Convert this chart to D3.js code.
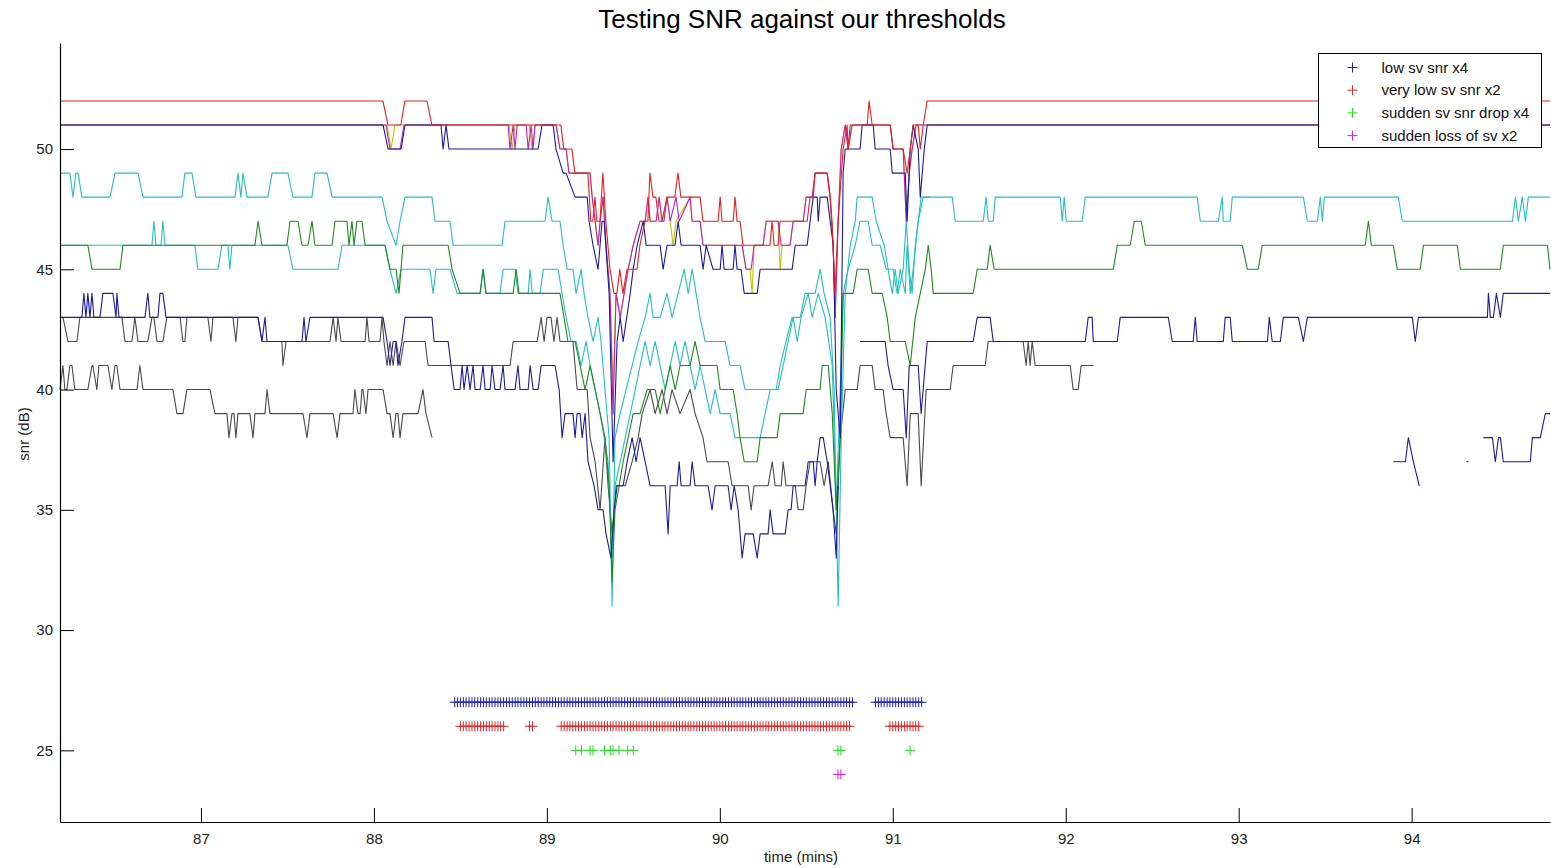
<!DOCTYPE html>
<html>
<head>
<meta charset="utf-8">
<script src="https://cdn.jsdelivr.net/npm/d3@7"></script>
<style>
  html, body { margin: 0; padding: 0; background: #ffffff; }
  svg text { font-family: "Liberation Sans", Arial, Helvetica, sans-serif; }
</style>
</head>
<body>
<svg id="chart" width="1551" height="868"></svg>
<script>
// ---------------------------------------------------------------
// Per-satellite SNR traces, [time (mins), snr (dB)]
// ---------------------------------------------------------------
const snrRed = [[86.185,52],[88.052,52],[88.081,51],[88.156,51],[88.179,52],[88.307,52],[88.335,51],[89.081,51],[89.098,50],[89.145,50],[89.162,49],[89.237,49],[89.254,47],[89.266,47],[89.278,48],[89.289,47],[89.307,47],[89.324,49],[89.341,47],[89.365,45],[89.388,44],[89.405,44],[89.422,45],[89.440,44],[89.463,45],[89.521,45],[89.538,46],[89.567,47],[89.584,47],[89.596,49],[89.613,48],[89.630,48],[89.648,47],[89.677,47],[89.694,48],[89.740,48],[89.758,49],[89.775,48],[89.886,48],[89.903,47],[89.990,47],[90.002,48],[90.013,47],[90.077,47],[90.088,48],[90.100,47],[90.117,47],[90.134,46],[90.290,46],[90.302,47],[90.314,46],[90.337,46],[90.348,47],[90.505,47],[90.522,48],[90.540,48],[90.551,49],[90.620,49],[90.638,48],[90.649,47],[90.666,44],[90.684,47],[90.713,50],[90.736,51],[90.742,50],[90.754,51],[90.852,51],[90.863,52],[90.881,51],[90.985,51],[91.002,50],[91.060,50],[91.083,49],[91.101,50],[91.118,51],[91.147,51],[91.159,50],[91.176,51],[91.199,52],[94.800,52]];

const snrBlueTop = [[86.185,51],[88.053,51],[88.082,50],[88.157,50],[88.180,51],[88.388,51],[88.400,50],[88.417,51],[88.434,50],[88.949,50],[88.972,51],[89.036,51],[89.053,50],[89.094,49],[89.111,49],[89.163,48],[89.233,48],[89.244,47],[89.267,46],[89.296,45],[89.319,47],[89.331,47],[89.360,44],[89.383,37],[89.406,42],[89.424,43],[89.441,42],[89.482,44],[89.499,45],[89.522,46],[89.557,47],[89.574,46],[89.655,46],[89.672,45],[89.695,46],[89.741,46],[89.759,47],[89.776,46],[89.886,46],[89.903,45],[89.921,46],[89.961,45],[90.002,45],[90.013,46],[90.025,45],[90.077,45],[90.088,46],[90.100,45],[90.123,45],[90.141,44],[90.216,44],[90.233,45],[90.418,45],[90.436,46],[90.505,46],[90.522,47],[90.540,48],[90.563,48],[90.569,47],[90.580,48],[90.621,48],[90.638,47],[90.656,46],[90.673,40],[90.696,38],[90.713,49],[90.725,50],[90.811,50],[90.823,51],[90.887,51],[90.898,50],[90.985,50],[90.997,49],[91.072,49],[91.083,47],[91.101,50],[91.118,51],[91.147,50],[91.159,48],[91.182,50],[91.199,51],[94.800,51]];

const snrMagenta = [[86.185,51],[88.070,51],[88.093,50],[88.151,50],[88.174,51],[88.776,51],[88.787,50],[88.805,51],[88.816,50],[88.828,51],[88.880,51],[88.892,50],[88.909,51],[88.920,50],[88.932,51],[89.053,51],[89.076,50],[89.111,50],[89.128,49],[89.250,49],[89.262,48],[89.279,47],[89.296,46],[89.308,47],[89.325,48],[89.342,46],[89.365,44],[89.383,39],[89.400,44],[89.424,43],[89.447,44],[89.470,45],[89.499,46],[89.539,47],[89.568,47],[89.585,48],[89.597,47],[89.632,47],[89.649,48],[89.666,47],[89.695,48],[89.713,47],[89.747,48],[89.765,47],[89.828,48],[89.840,47],[89.886,47],[89.903,46],[90.129,46],[90.152,45],[90.181,45],[90.198,46],[90.250,46],[90.268,47],[90.337,47],[90.355,46],[90.406,46],[90.424,47],[90.482,47],[90.499,48],[90.534,48],[90.551,49],[90.621,49],[90.638,48],[90.655,46],[90.667,43],[90.684,47],[90.702,50],[90.725,51],[90.742,50],[90.765,51],[90.985,51],[91.002,50],[91.060,50],[91.078,47],[91.095,49],[91.112,50],[91.135,51],[94.800,51]];

const snrYellow = [[86.185,51],[88.076,51],[88.099,50],[88.122,51],[88.781,51],[88.799,50],[88.816,51],[88.897,51],[88.915,50],[88.932,51],[89.053,51],[89.076,50],[89.111,50],[89.128,49],[89.250,49],[89.262,48],[89.279,47],[89.296,46],[89.308,47],[89.325,48],[89.342,46],[89.365,44],[89.383,40],[89.400,44],[89.424,43],[89.447,44],[89.470,45],[89.499,46],[89.539,47],[89.568,47],[89.585,48],[89.597,47],[89.632,47],[89.649,48],[89.666,47],[89.695,48],[89.713,47],[89.730,46],[89.747,47],[89.828,48],[89.840,47],[89.886,47],[89.903,46],[90.129,46],[90.152,45],[90.175,45],[90.187,44],[90.198,46],[90.250,46],[90.268,47],[90.337,47],[90.349,45],[90.360,46],[90.406,46],[90.424,47],[90.482,47],[90.499,48],[90.534,48],[90.551,49],[90.621,49],[90.638,48],[90.655,46],[90.667,43],[90.684,47],[90.702,50],[90.725,51],[90.742,50],[90.765,51],[90.985,51],[91.002,50],[91.060,50],[91.078,47],[91.095,49],[91.112,50],[91.135,51],[94.800,51]];

const snrCyanUpper = [[86.185,49],[86.242,49],[86.260,48],[86.277,49],[86.289,49],[86.312,48],[86.474,48],[86.503,49],[86.636,49],[86.665,48],[86.890,48],[86.907,49],[86.948,49],[86.971,48],[87.197,48],[87.214,49],[87.231,48],[87.243,49],[87.266,48],[87.387,48],[87.411,49],[87.503,49],[87.532,48],[87.642,48],[87.659,49],[87.729,49],[87.758,48],[88.047,48],[88.076,47],[88.128,46],[88.151,47],[88.180,48],[88.336,48],[88.353,47],[88.440,47],[88.458,46],[88.741,46],[88.758,47],[88.990,47],[89.007,48],[89.030,47],[89.076,47],[89.094,46],[89.117,45],[89.151,45],[89.169,44],[89.198,45],[89.215,44],[89.238,43],[89.267,42],[89.296,43],[89.313,42],[89.336,40],[89.360,38],[89.377,31],[89.394,38],[89.424,39],[89.458,40],[89.493,41],[89.528,42],[89.568,43],[89.597,44],[89.614,43],[89.655,43],[89.695,44],[89.724,43],[89.759,44],[89.794,45],[89.817,44],[89.840,45],[89.863,44],[89.886,43],[89.915,42],[90.031,42],[90.059,41],[90.117,41],[90.146,40],[90.326,40],[90.349,41],[90.383,42],[90.418,43],[90.465,43],[90.493,44],[90.551,44],[90.580,45],[90.603,44],[90.638,43],[90.661,40],[90.684,31],[90.702,38],[90.725,44],[90.754,46],[90.783,47],[90.794,48],[90.881,48],[90.904,47],[90.950,46],[90.973,45],[90.997,44],[91.014,45],[91.031,44],[91.060,45],[91.078,47],[91.095,45],[91.112,44],[91.130,46],[91.147,47],[91.164,48],[91.344,48],[91.361,47],[91.523,47],[91.540,48],[91.552,47],[91.581,47],[91.592,48],[91.968,48],[91.980,47],[91.991,48],[92.003,47],[92.095,47],[92.113,48],[92.760,48],[92.778,47],[92.882,47],[92.905,48],[92.911,47],[92.951,47],[92.963,48],[93.374,48],[93.397,47],[93.455,47],[93.472,48],[93.484,47],[93.495,48],[93.923,48],[93.946,47],[94.583,47],[94.600,48],[94.617,47],[94.640,48],[94.658,47],[94.675,48],[94.800,48]];

const snrCyanLower = [[86.185,46],[86.717,46],[86.728,47],[86.740,46],[86.769,46],[86.780,47],[86.792,46],[86.965,46],[86.982,45],[87.098,45],[87.121,46],[87.156,46],[87.167,45],[87.179,46],[87.503,46],[87.532,45],[87.792,45],[87.816,46],[88.064,46],[88.093,45],[88.128,44],[88.157,45],[88.324,45],[88.342,44],[88.359,45],[88.440,45],[88.481,44],[88.614,44],[88.631,45],[88.648,44],[88.729,44],[88.747,45],[88.816,45],[88.833,44],[88.892,44],[88.903,45],[88.915,44],[88.961,44],[88.979,45],[89.065,45],[89.088,44],[89.111,43],[89.140,42],[89.169,42],[89.198,41],[89.227,42],[89.250,41],[89.279,40],[89.308,39],[89.331,38],[89.354,37],[89.377,33],[89.394,36],[89.424,37],[89.453,38],[89.482,39],[89.511,40],[89.539,41],[89.568,42],[89.597,41],[89.626,42],[89.655,41],[89.684,40],[89.713,41],[89.742,42],[89.770,41],[89.799,42],[89.828,41],[89.857,40],[89.886,41],[89.915,40],[89.944,39],[89.973,40],[90.002,39],[90.059,39],[90.088,38],[90.233,38],[90.262,39],[90.291,40],[90.337,40],[90.366,41],[90.395,42],[90.424,43],[90.447,42],[90.470,43],[90.511,44],[90.534,43],[90.569,44],[90.609,43],[90.650,41],[90.673,35],[90.696,40],[90.713,44],[90.742,45],[90.783,46],[90.811,47],[90.858,47],[90.881,46],[90.927,46],[90.962,45],[91.002,45],[91.025,44],[91.043,45],[91.072,44],[91.083,46],[91.101,44],[91.118,45],[91.147,47],[91.176,48],[91.216,48]];

const snrGreen = [[86.185,46],[86.346,46],[86.370,45],[86.532,45],[86.549,46],[87.312,46],[87.330,47],[87.353,46],[87.497,46],[87.515,47],[87.561,47],[87.584,46],[87.619,46],[87.642,47],[87.659,46],[87.758,46],[87.775,47],[87.844,47],[87.856,46],[87.873,47],[87.885,46],[87.902,47],[87.931,47],[87.949,46],[88.064,46],[88.093,45],[88.128,45],[88.145,44],[88.168,46],[88.429,46],[88.452,45],[88.498,44],[88.614,44],[88.631,45],[88.648,44],[88.805,44],[88.822,45],[88.839,44],[89.076,44],[89.099,43],[89.122,42],[89.163,42],[89.192,41],[89.221,40],[89.250,41],[89.279,40],[89.308,39],[89.336,38],[89.360,36],[89.377,32],[89.394,35],[89.418,36],[89.441,37],[89.470,38],[89.499,39],[89.539,39],[89.580,40],[89.626,40],[89.655,39],[89.684,40],[89.713,41],[89.742,40],[89.770,41],[89.828,41],[89.857,42],[89.886,41],[89.984,41],[90.002,40],[90.077,40],[90.100,39],[90.117,38],[90.141,37],[90.216,37],[90.233,38],[90.331,38],[90.349,39],[90.482,39],[90.499,40],[90.580,40],[90.592,41],[90.627,41],[90.650,39],[90.673,35],[90.696,38],[90.713,44],[90.771,44],[90.794,45],[90.858,45],[90.881,44],[90.939,44],[90.968,43],[90.985,42],[91.072,42],[91.101,41],[91.130,43],[91.159,44],[91.188,45],[91.205,46],[91.222,45],[91.234,44],[91.465,44],[91.488,45],[91.546,45],[91.563,46],[91.586,45],[92.275,45],[92.298,46],[92.373,46],[92.396,47],[92.437,47],[92.460,46],[93.021,46],[93.050,45],[93.113,45],[93.136,46],[93.732,46],[93.750,47],[93.767,46],[93.894,46],[93.917,45],[94.050,45],[94.068,46],[94.264,46],[94.282,45],[94.513,45],[94.530,46],[94.785,46],[94.800,45]];

const snrBlueMid = [[86.185,43],[86.312,43],[86.323,44],[86.335,43],[86.346,44],[86.358,43],[86.370,44],[86.381,43],[86.416,43],[86.433,44],[86.491,44],[86.509,43],[86.514,44],[86.526,43],[86.676,43],[86.693,44],[86.705,43],[86.751,43],[86.763,44],[86.780,44],[86.798,43],[87.330,43],[87.353,42],[87.370,43],[87.382,42],[87.584,42],[87.596,43],[87.607,42],[87.630,43],[88.053,43],[88.076,42],[88.093,41],[88.111,42],[88.128,42],[88.139,41],[88.162,42],[88.180,43],[88.336,43],[88.348,42],[88.429,42],[88.446,41],[88.464,40],[88.498,40],[88.510,41],[88.521,40],[88.539,41],[88.556,40],[88.573,41],[88.585,40],[88.614,40],[88.631,41],[88.643,40],[88.672,40],[88.683,41],[88.700,40],[88.729,40],[88.747,41],[88.758,40],[88.816,40],[88.833,41],[88.845,40],[88.892,40],[88.903,41],[88.921,40],[88.949,40],[88.967,41],[89.047,41],[89.071,40],[89.088,38],[89.105,39],[89.151,39],[89.163,38],[89.175,39],[89.192,39],[89.204,38],[89.221,39],[89.238,37],[89.273,36],[89.296,35],[89.325,35],[89.342,34],[89.371,33],[89.389,35],[89.406,36],[89.441,36],[89.464,37],[89.493,38],[89.516,37],[89.539,38],[89.568,37],[89.597,36],[89.684,36],[89.701,34],[89.713,36],[89.753,36],[89.765,37],[89.776,36],[89.828,36],[89.840,37],[89.857,36],[89.932,36],[89.955,35],[89.973,36],[90.048,36],[90.065,35],[90.083,36],[90.106,35],[90.129,33],[90.146,34],[90.193,34],[90.216,33],[90.233,34],[90.279,34],[90.291,35],[90.308,34],[90.378,34],[90.395,35],[90.412,35],[90.424,36],[90.493,36],[90.511,37],[90.540,37],[90.551,36],[90.563,37],[90.580,38],[90.598,38],[90.621,37],[90.638,36],[90.655,35],[90.673,33],[90.684,36],
  [90.700,null],
  [90.811,42],[90.956,42],[90.973,41],[91.002,40],[91.060,40],[91.078,38],[91.095,41],[91.147,41],[91.164,39],[91.199,42],[91.465,42],[91.488,43],[91.563,43],[91.581,42],[92.113,42],[92.130,43],[92.153,43],[92.159,42],[92.298,42],[92.315,43],[92.593,43],[92.616,42],[92.737,42],[92.749,43],[92.760,42],[92.911,42],[92.922,43],[92.951,43],[92.963,42],[93.166,42],[93.177,43],[93.194,42],[93.241,42],[93.258,43],[93.345,43],[93.374,42],[93.397,43],[94.004,43],[94.021,42],[94.039,43],[94.438,43],[94.444,44],[94.455,43],[94.473,43],[94.490,44],[94.513,43],[94.530,44],[94.800,44]];

const snrBlueLate = [[93.894,37],[93.964,37],[93.981,38],[94.010,37],[94.044,36],
  [94.200,null],
  [94.316,37],[94.328,37],
  [94.380,null],
  [94.415,38],[94.467,38],[94.484,37],[94.502,38],[94.513,38],[94.530,37],[94.686,37],[94.698,38],[94.744,38],[94.773,39],[94.800,39]];

const snrGrayUpper = [[86.185,43],[86.202,43],[86.231,42],[86.283,42],[86.300,43],[86.543,43],[86.561,42],[86.601,42],[86.618,43],[86.636,42],[86.693,42],[86.717,43],[86.728,43],[86.746,42],[86.780,42],[86.803,43],[86.879,43],[86.896,42],[86.907,42],[86.919,43],[87.040,43],[87.058,42],[87.069,43],[87.185,43],[87.202,42],[87.214,43],[87.330,43],[87.353,42],[87.468,42],[87.474,41],[87.492,42],[87.746,42],[87.764,43],[87.781,42],[87.792,43],[87.810,42],[87.949,42],[87.960,43],[87.972,42],[88.035,42],[88.047,43],[88.058,42],[88.076,41],[88.093,42],[88.111,41],[88.128,42],[88.151,41],[88.174,42],[88.296,42],[88.313,41],[88.787,41],[88.805,42],[88.944,42],[88.967,43],[88.984,42],[89.001,43],[89.024,43],[89.041,42],[89.059,43],[89.076,42],[89.151,42],[89.175,40],[89.233,40],[89.250,38],[89.279,37],[89.308,35],[89.336,38],[89.354,36],[89.377,34],[89.400,36],[89.453,36],[89.493,37],[89.528,38],[89.551,39],[89.597,40],[89.626,39],[89.666,40],[89.695,39],[89.724,40],[89.770,39],[89.828,40],[89.857,39],[89.903,38],[89.926,37],[90.048,37],[90.071,36],[90.164,36],[90.181,35],[90.198,36],[90.279,36],[90.303,37],[90.320,36],[90.355,36],[90.366,37],[90.383,36],[90.436,36],[90.453,35],[90.482,35],[90.499,36],[90.522,37],[90.580,37],[90.603,36],[90.627,37],[90.655,35],[90.673,34],[90.696,38],[90.725,40],[90.794,40],[90.811,41],[90.881,41],[90.898,40],[90.944,40],[90.962,39],[90.985,38],[91.060,38],[91.083,36],[91.101,39],[91.147,39],[91.164,36],[91.193,40],[91.332,40],[91.349,41],[91.534,41],[91.552,42],[91.754,42],[91.771,41],[91.783,42],[91.794,41],[91.806,42],[91.823,41],[92.026,41],[92.043,40],[92.072,40],[92.089,41],[92.159,41]];

const snrGrayLower = [[86.185,40],[86.202,41],[86.213,40],[86.225,40],[86.242,41],[86.254,41],[86.271,40],[86.346,40],[86.370,41],[86.375,41],[86.398,40],[86.410,41],[86.462,41],[86.485,40],[86.503,41],[86.514,41],[86.532,40],[86.630,40],[86.647,41],[86.665,40],[86.838,40],[86.861,39],[86.896,39],[86.919,40],[87.052,40],[87.081,39],[87.150,39],[87.162,38],[87.179,39],[87.191,39],[87.202,38],[87.214,39],[87.283,39],[87.301,38],[87.312,39],[87.370,39],[87.382,40],[87.399,39],[87.590,39],[87.613,38],[87.630,39],[87.764,39],[87.787,38],[87.804,39],[87.879,39],[87.890,40],[87.908,39],[87.920,39],[87.931,40],[87.937,40],[87.954,39],[87.966,40],[88.053,40],[88.076,39],[88.093,39],[88.111,38],[88.128,39],[88.139,39],[88.151,38],[88.168,39],[88.255,39],[88.284,40],[88.301,39],[88.336,38]];

// ---------------------------------------------------------------
// Threshold flags: times (mins) at which each test fired
// ---------------------------------------------------------------
const flagLowSnr = [88.467,88.483,88.500,88.517,88.533,88.550,88.567,88.583,88.600,88.617,88.633,88.650,88.667,88.683,88.700,88.717,88.733,88.750,88.767,88.783,88.800,88.817,88.833,88.850,88.867,88.883,88.900,88.917,88.933,88.950,88.967,88.983,
  89.000,89.017,89.033,89.050,89.067,89.083,89.100,89.117,89.133,89.150,89.167,89.183,89.200,89.217,89.233,89.250,89.267,89.283,89.300,89.317,89.333,89.350,89.367,89.383,89.400,89.417,89.433,89.450,89.467,89.483,89.500,89.517,89.533,89.550,89.567,89.583,89.600,89.617,89.633,89.650,89.667,89.683,89.700,89.717,89.733,89.750,89.767,89.783,89.800,89.817,89.833,89.850,89.867,89.883,89.900,89.917,89.933,89.950,89.967,89.983,
  90.000,90.017,90.033,90.050,90.067,90.083,90.100,90.117,90.133,90.150,90.167,90.183,90.200,90.217,90.233,90.250,90.267,90.283,90.300,90.317,90.333,90.350,90.367,90.383,90.400,90.417,90.433,90.450,90.467,90.483,90.500,90.517,90.533,90.550,90.567,90.583,90.600,90.617,90.633,90.650,90.667,90.683,90.700,90.717,90.733,90.750,90.767,
  90.900,90.917,90.933,90.950,90.967,90.983,91.000,91.017,91.033,91.050,91.067,91.083,91.100,91.117,91.133,91.150,91.167];

const flagVeryLowSnr = [88.500,88.517,88.533,88.550,88.567,88.583,88.600,88.617,88.633,88.650,88.667,88.683,88.700,88.717,88.733,88.750,
  88.900,88.917,
  89.083,89.100,89.117,89.133,89.150,89.167,89.183,89.200,89.217,89.233,89.250,89.267,89.283,89.300,89.317,89.333,89.350,89.367,89.383,89.400,89.417,89.433,89.450,89.467,89.483,89.500,89.517,89.533,89.550,89.567,89.583,89.600,89.617,89.633,89.650,89.667,89.683,89.700,89.717,89.733,89.750,89.767,89.783,89.800,89.817,89.833,89.850,89.867,89.883,89.900,89.917,89.933,89.950,89.967,89.983,
  90.000,90.017,90.033,90.050,90.067,90.083,90.100,90.117,90.133,90.150,90.167,90.183,90.200,90.217,90.233,90.250,90.267,90.283,90.300,90.317,90.333,90.350,90.367,90.383,90.400,90.417,90.433,90.450,90.467,90.483,90.500,90.517,90.533,90.550,90.567,90.583,90.600,90.617,90.633,90.650,90.667,90.683,90.700,90.717,90.733,90.750,
  90.983,91.000,91.017,91.033,91.050,91.067,91.083,91.100,91.117,91.133,91.150];

const flagSnrDrop = [89.167,89.200,89.250,89.267,89.333,89.367,89.383,89.417,89.467,89.500,90.683,90.700,91.100];

const flagSvLoss = [90.683,90.700];

// level at which each flag row is plotted (dB)
const flagLevels = [27, 26, 25, 24];

const legendLabels = ["low sv snr x4", "very low sv snr x2", "sudden sv snr drop x4", "sudden loss of sv x2"];

// axis extents and tick values
const xDomain = [86.185, 94.8];
const yDomain = [22.02, 54.41];
const xTicks = [87, 88, 89, 90, 91, 92, 93, 94];
const yTicks = [25, 30, 35, 40, 45, 50];

// ---------------------------------------------------------------
// Drawing
// ---------------------------------------------------------------
const svg = d3.select("#chart");

const x = d3.scaleLinear().domain(xDomain).range([60, 1550]);
const y = d3.scaleLinear().domain(yDomain).range([822, 43]);

// trace styles, drawn in this order (later ones on top)
const traces = [
  { data: snrGrayLower, color: "#4a4a4a" },
  { data: snrGrayUpper, color: "#4a4a4a" },
  { data: snrCyanLower, color: "#26bfbf" },
  { data: snrCyanUpper, color: "#26bfbf" },
  { data: snrGreen,     color: "#1f8a1f" },
  { data: snrBlueMid,   color: "#1c1c9c" },
  { data: snrBlueLate,  color: "#1c1c9c" },
  { data: snrYellow,    color: "#c4c400" },
  { data: snrMagenta,   color: "#c020c0" },
  { data: snrBlueTop,   color: "#1c1c9c" },
  { data: snrRed,       color: "#e62020" }
];

const line = d3.line()
  .defined(d => d[1] !== null)
  .x(d => x(d[0]))
  .y(d => y(d[1]));

const gTraces = svg.append("g");
traces.forEach(t => {
  gTraces.append("path")
    .datum(t.data)
    .attr("d", line)
    .attr("fill", "none")
    .attr("stroke", t.color)
    .attr("stroke-width", 1.1)
    .attr("stroke-linejoin", "round");
});

// flag rows drawn with '+' markers
const flagSets = [
  { times: flagLowSnr,     color: "#2020b8" },
  { times: flagVeryLowSnr, color: "#e02828" },
  { times: flagSnrDrop,    color: "#22dd22" },
  { times: flagSvLoss,     color: "#dd22dd" }
];
const plusPath = "M-5,0H5M0,-5V5";
const gFlags = svg.append("g");
flagSets.forEach((f, i) => {
  gFlags.append("g").selectAll("path")
    .data(f.times)
    .join("path")
    .attr("d", plusPath)
    .attr("transform", d => `translate(${x(d)},${y(flagLevels[i])})`)
    .attr("fill", "none")
    .attr("stroke", f.color)
    .attr("stroke-width", 1);
});

// axes (ticks point inward)
const xAxis = d3.axisBottom(x)
  .tickValues(xTicks)
  .tickFormat(d3.format("d"))
  .tickSizeInner(-14)
  .tickSizeOuter(0)
  .tickPadding(11);
const yAxis = d3.axisLeft(y)
  .tickValues(yTicks)
  .tickFormat(d3.format("d"))
  .tickSizeInner(-14)
  .tickSizeOuter(0)
  .tickPadding(7);

const gx = svg.append("g").attr("transform", "translate(0,822)").call(xAxis);
const gy = svg.append("g").attr("transform", "translate(60,0)").call(yAxis);
[gx, gy].forEach(g => {
  g.select(".domain").attr("stroke", "#000").attr("stroke-width", 1.2);
  g.selectAll(".tick line").attr("stroke", "#000");
  g.selectAll(".tick text").attr("fill", "#222").style("font-size", "15px");
});

// title and axis labels
svg.append("text")
  .attr("x", 802).attr("y", 28)
  .attr("text-anchor", "middle")
  .style("font-size", "26px")
  .attr("fill", "#000")
  .text("Testing SNR against our thresholds");

svg.append("text")
  .attr("x", 801).attr("y", 862)
  .attr("text-anchor", "middle")
  .style("font-size", "15px")
  .attr("fill", "#222")
  .text("time (mins)");

svg.append("text")
  .attr("transform", "translate(29,434) rotate(-90)")
  .attr("text-anchor", "middle")
  .style("font-size", "15px")
  .attr("fill", "#222")
  .text("snr (dB)");

// legend
const legend = svg.append("g").attr("transform", "translate(1318.5,53.5)");
legend.append("rect")
  .attr("width", 223).attr("height", 94)
  .attr("fill", "#fff").attr("stroke", "#000").attr("stroke-width", 1);
legendLabels.forEach((label, i) => {
  const row = legend.append("g").attr("transform", `translate(0,${14 + i * 22.7})`);
  row.append("path").attr("d", plusPath)
    .attr("transform", "translate(34,0)")
    .attr("fill", "none").attr("stroke", flagSets[i].color).attr("stroke-width", 1);
  row.append("text")
    .attr("x", 63).attr("y", 0).attr("dy", "0.35em")
    .style("font-size", "15px")
    .attr("fill", "#111")
    .text(label);
});
</script>
</body>
</html>
